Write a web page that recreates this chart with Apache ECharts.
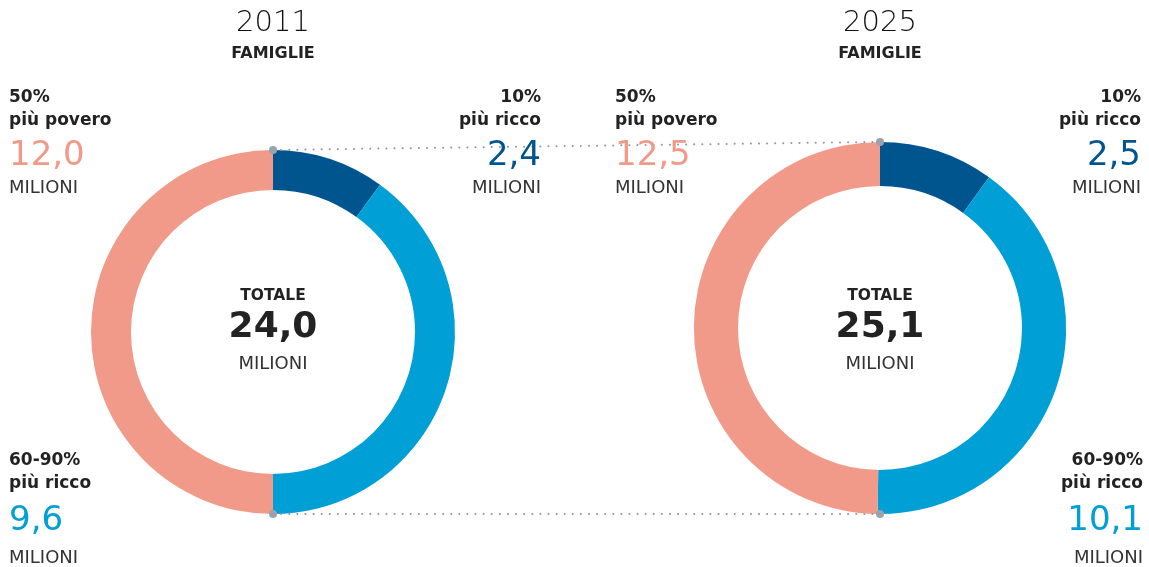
<!DOCTYPE html>
<html>
<head>
<meta charset="utf-8">
<script src="https://cdn.jsdelivr.net/npm/echarts@6/dist/echarts.min.js"></script>
<style>
  html, body { margin: 0; padding: 0; background: #fff; }
  #chart { width: 1149px; height: 567px; }
</style>
</head>
<body>
<div id="chart"></div>
<script>
// dati (milioni di famiglie)
const years = ['2011', '2025']
const groupPct = ['10%', '60-90%', '50%']
const groupName = ['più ricco', 'più ricco', 'più povero']
const values2011 = [2.4, 9.6, 12.0]
const values2025 = [2.5, 10.1, 12.5]
const totals = [24.0, 25.1]

const colors = ['#00558f', '#009fd6', '#f19a8a']
const FONT = 'DejaVu Sans'

// layout
const centers = [[273, 332], [880, 328]]
const baseRadius = 182
const innerRadius = 142
// posizione dei blocchi di etichette: [x, align, yTop]
const labelPos = [
  [[541, 'right', 98], [9, 'left', 461], [9, 'left', 98]],
  [[1141, 'right', 98], [1143, 'right', 461], [615, 'left', 98]]
]

function fmt (v) {
  return v.toFixed(1).replace('.', ',')
}

function outerRadius (i) {
  return baseRadius * Math.sqrt(totals[i] / totals[0])
}

function text (x, y, str, size, weight, color, align) {
  return {
    type: 'text',
    x, y,
    style: {
      text: str,
      fontFamily: FONT,
      fontSize: size,
      fontWeight: weight,
      fill: color,
      align: align || 'center',
      verticalAlign: 'middle'
    },
    z: 10
  }
}

function labelBlock (x, align, y, pct, name, value, color, bottom) {
  const step = bottom ? [23, 37, 37] : [23, 35, 32]
  return [
    text(x, y, pct, 17, 'bold', '#222', align),
    text(x, y + step[0], name, 17, 'bold', '#222', align),
    text(x, y + step[0] + step[1], fmt(value), 34, 'normal', color, align),
    text(x, y + step[0] + step[1] + step[2], 'MILIONI', 18, 'normal', '#333', align)
  ]
}

function initChart () {
  const dom = echarts.init(document.getElementById('chart'))
  const allValues = [values2011, values2025]
  const series = []
  const graphic = []

  allValues.forEach((vals, i) => {
    const [cx, cy] = centers[i]
    series.push({
      type: 'pie',
      center: [cx, cy],
      radius: [innerRadius, outerRadius(i)],
      startAngle: 90,
      clockwise: true,
      silent: true,
      label: { show: false },
      labelLine: { show: false },
      itemStyle: { borderWidth: 0 },
      data: vals.map((v, k) => ({
        value: v,
        name: groupPct[k] + ' ' + groupName[k],
        itemStyle: { color: colors[k] }
      }))
    })

    // titolo
    graphic.push(text(cx, 23, years[i], 29, 200, '#111'))
    graphic.push(text(cx, 54, 'FAMIGLIE', 16, 'bold', '#222'))
    // centro
    graphic.push(text(cx, 296, 'TOTALE', 15.5, 'bold', '#222'))
    graphic.push(text(cx, 328, fmt(totals[i]), 36, 'bold', '#222'))
    graphic.push(text(cx, 364, 'MILIONI', 18, 'normal', '#333'))

    // etichette dei gruppi
    vals.forEach((v, k) => {
      const [x, align, y] = labelPos[i][k]
      graphic.push(...labelBlock(x, align, y, groupPct[k], groupName[k], v, colors[k], y > 300))
    })
  })

  // linee tratteggiate tra i punti alti e bassi delle due corone
  const top = centers.map((c, i) => [c[0], c[1] - outerRadius(i)])
  const bot = centers.map((c, i) => [c[0], c[1] + outerRadius(i)])
  ;[top, bot].forEach(pts => {
    graphic.push({
      type: 'polyline',
      shape: { points: pts },
      style: { stroke: '#8f99a4', lineWidth: 2, lineDash: [0.1, 8], lineCap: 'round' },
      z: 5
    })
    pts.forEach(p => {
      graphic.push({
        type: 'circle',
        shape: { cx: p[0], cy: p[1], r: 4 },
        style: { fill: '#9aa3ad' },
        z: 20
      })
    })
  })

  dom.setOption({
    animation: false,
    series,
    graphic
  })
}

initChart()
</script>
</body>
</html>
